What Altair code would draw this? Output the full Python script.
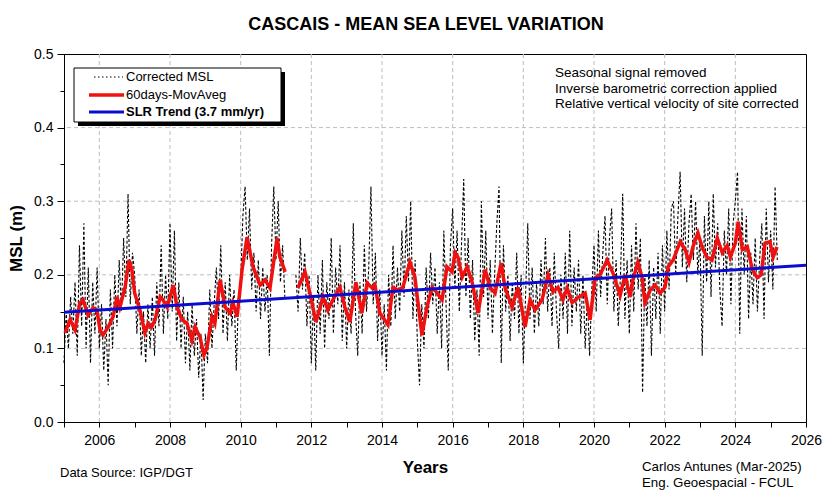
import altair as alt
import pandas as pd

FONT = "Liberation Sans"

# ---------------- data ----------------
msl_start = 2005.0
msl_step = 1.0 / 16.0
msl_values = [
    # 2005
    0.08, 0.15, 0.10, 0.17, 0.12, 0.19, 0.09, 0.24, 0.13, 0.27, 0.10, 0.21, 0.08, 0.19, 0.12, 0.21,
    # 2006
    0.10, 0.16, 0.07, 0.14, 0.05, 0.18, 0.10, 0.20, 0.13, 0.22, 0.15, 0.25, 0.17, 0.31, 0.16, 0.23,
    # 2007
    0.20, 0.12, 0.18, 0.09, 0.15, 0.08, 0.16, 0.10, 0.17, 0.09, 0.19, 0.13, 0.24, 0.12, 0.20, 0.14,
    # 2008
    0.27, 0.15, 0.26, 0.11, 0.19, 0.10, 0.17, 0.08, 0.15, 0.07, 0.16, 0.09, 0.14, 0.06, 0.12, 0.03,
    # 2009
    0.12, 0.08, 0.18, 0.10, 0.16, 0.21, 0.14, 0.24, 0.12, 0.19, 0.11, 0.20, 0.13, 0.18, 0.07, 0.17,
    # 2010
    0.19, 0.28, 0.32, 0.22, 0.29, 0.18, 0.23, 0.15, 0.22, 0.14, 0.21, 0.15, 0.20, 0.09, 0.24, 0.32,
    # 2011 (gap in record)
    0.22, 0.30, 0.19, 0.24, 0.17, None, None, None, None, 0.20, 0.15, 0.25, 0.18, 0.23, 0.13, 0.20,
    # 2012
    0.08, 0.17, 0.07, 0.20, 0.12, 0.22, 0.10, 0.19, 0.14, 0.25, 0.12, 0.21, 0.16, 0.24, 0.11, 0.19,
    # 2013
    0.10, 0.18, 0.12, 0.27, 0.15, 0.09, 0.19, 0.12, 0.24, 0.15, 0.21, 0.32, 0.16, 0.23, 0.11, 0.18,
    # 2014
    0.09, 0.16, 0.07, 0.20, 0.13, 0.24, 0.14, 0.21, 0.15, 0.26, 0.17, 0.28, 0.19, 0.30, 0.14, 0.22,
    # 2015
    0.11, 0.05, 0.16, 0.10, 0.21, 0.14, 0.23, 0.16, 0.21, 0.12, 0.19, 0.10, 0.26, 0.16, 0.07, 0.24,
    # 2016
    0.29, 0.18, 0.26, 0.15, 0.24, 0.33, 0.17, 0.25, 0.14, 0.22, 0.11, 0.18, 0.09, 0.30, 0.17, 0.26,
    # 2017
    0.14, 0.22, 0.12, 0.20, 0.27, 0.32, 0.08, 0.24, 0.15, 0.20, 0.11, 0.19, 0.14, 0.23, 0.12, 0.20,
    # 2018
    0.08, 0.17, 0.27, 0.14, 0.21, 0.12, 0.19, 0.13, 0.22, 0.16, 0.25, 0.15, 0.21, 0.13, 0.23, 0.15,
    # 2019
    0.10, 0.20, 0.14, 0.23, 0.12, 0.26, 0.13, 0.21, 0.15, 0.22, 0.12, 0.20, 0.10, 0.17, 0.09, 0.18,
    # 2020
    0.24, 0.15, 0.26, 0.17, 0.23, 0.28, 0.16, 0.25, 0.29, 0.15, 0.22, 0.13, 0.20, 0.31, 0.14, 0.22,
    # 2021
    0.12, 0.24, 0.15, 0.27, 0.18, 0.25, 0.04, 0.20, 0.13, 0.22, 0.09, 0.21, 0.14, 0.23, 0.12, 0.24,
    # 2022
    0.15, 0.26, 0.18, 0.29, 0.30, 0.20, 0.28, 0.34, 0.21, 0.29, 0.19, 0.27, 0.31, 0.22, 0.30, 0.20,
    # 2023
    0.25, 0.09, 0.28, 0.19, 0.30, 0.17, 0.31, 0.21, 0.27, 0.18, 0.13, 0.26, 0.20, 0.29, 0.16, 0.27,
    # 2024
    0.30, 0.34, 0.12, 0.29, 0.20, 0.28, 0.14, 0.23, 0.16, 0.25, 0.15, 0.22, 0.27, 0.14, 0.29, 0.19,
    # 2025
    0.26, 0.18, 0.32, 0.22,
]

mavg_years_1 = [
    2005.03, 2005.17, 2005.31, 2005.45, 2005.54, 2005.68, 2005.82, 2005.93,
    2006.02, 2006.10, 2006.25, 2006.39, 2006.50, 2006.58, 2006.73, 2006.84, 2006.92,
    2007.00, 2007.15, 2007.29, 2007.38, 2007.48, 2007.58, 2007.72, 2007.80, 2007.92,
    2008.09, 2008.20, 2008.34, 2008.48, 2008.62, 2008.71, 2008.85, 2008.96,
    2009.05, 2009.19, 2009.27, 2009.42, 2009.56, 2009.70, 2009.78, 2009.90,
    2010.04, 2010.18, 2010.35, 2010.55, 2010.69, 2010.83,
    2011.03, 2011.11, 2011.26,
]
mavg_values_1 = [
    0.121, 0.139, 0.125, 0.162, 0.166, 0.145, 0.155, 0.152,
    0.125, 0.118, 0.129, 0.143, 0.170, 0.156, 0.183, 0.220, 0.207,
    0.175, 0.152, 0.121, 0.134, 0.129, 0.139, 0.170, 0.166, 0.156,
    0.186, 0.156, 0.139, 0.134, 0.111, 0.129, 0.115, 0.091,
    0.102, 0.143, 0.134, 0.193, 0.156, 0.148, 0.162, 0.143,
    0.207, 0.251, 0.211, 0.186, 0.193, 0.182,
    0.250, 0.224, 0.204,
]
mavg_years_2 = [
    2011.62, 2011.82, 2011.96,
    2012.13, 2012.25, 2012.33, 2012.47, 2012.61, 2012.81, 2012.95,
    2013.09, 2013.26, 2013.43, 2013.58, 2013.72, 2013.80, 2013.94,
    2014.17, 2014.31, 2014.45, 2014.59, 2014.79, 2014.93,
    2015.13, 2015.27, 2015.42, 2015.50, 2015.70, 2015.84, 2015.98,
    2016.07, 2016.15, 2016.27, 2016.41, 2016.55, 2016.72, 2016.92,
    2017.06, 2017.20, 2017.37, 2017.48, 2017.68, 2017.85,
    2018.05, 2018.19, 2018.33, 2018.53, 2018.70, 2018.84, 2018.98,
    2019.12, 2019.24, 2019.38, 2019.52, 2019.75, 2019.89,
    2020.03, 2020.17, 2020.37, 2020.54, 2020.74, 2020.88,
    2021.02, 2021.10, 2021.24, 2021.36, 2021.44, 2021.59, 2021.73, 2021.87,
    2022.01, 2022.10, 2022.24, 2022.44, 2022.58, 2022.69, 2022.80, 2022.94,
    2023.07, 2023.20, 2023.34, 2023.49, 2023.63, 2023.77, 2023.86,
    2024.00, 2024.08, 2024.20, 2024.34, 2024.48, 2024.62, 2024.73, 2024.84, 2024.98,
    2025.07, 2025.18,
]
mavg_values_2 = [
    0.182, 0.204, 0.175,
    0.136, 0.156, 0.170, 0.152, 0.166, 0.183, 0.156,
    0.136, 0.190, 0.148, 0.189, 0.182, 0.186, 0.148,
    0.132, 0.183, 0.179, 0.183, 0.217, 0.197,
    0.118, 0.156, 0.183, 0.179, 0.166, 0.211, 0.204,
    0.230, 0.224, 0.197, 0.211, 0.190, 0.148, 0.207,
    0.183, 0.175, 0.216, 0.183, 0.156, 0.183,
    0.129, 0.166, 0.152, 0.166, 0.200, 0.177, 0.183,
    0.166, 0.182, 0.162, 0.168, 0.175, 0.139,
    0.196, 0.200, 0.220, 0.202, 0.172, 0.200,
    0.170, 0.193, 0.217, 0.197, 0.162, 0.179, 0.186, 0.175,
    0.183, 0.211, 0.220, 0.245, 0.234, 0.217, 0.238, 0.257,
    0.236, 0.224, 0.220, 0.250, 0.230, 0.240, 0.224,
    0.243, 0.272, 0.234, 0.238, 0.207, 0.196, 0.200, 0.243, 0.245,
    0.224, 0.238,
]

trend_years = [2005.0, 2026.0]
trend_values = [0.149, 0.213]

year_ticks = list(range(2005, 2027))
year_grid = [2006, 2008, 2010, 2012, 2014, 2016, 2018, 2020, 2022, 2024]
msl_ticks = [0.0, 0.05, 0.1, 0.15, 0.2, 0.25, 0.3, 0.35, 0.4, 0.45, 0.5]
msl_grid = [0.1, 0.2, 0.3, 0.4]

title_text = "CASCAIS - MEAN SEA LEVEL VARIATION"
legend_labels = ["Corrected MSL", "60days-MovAveg", "SLR Trend (3.7 mm/yr)"]
notes_text = "Seasonal signal removed\nInverse barometric correction applied\nRelative vertical velocity of site corrected"
source_text = "Data Source: IGP/DGT"
author_text = "Carlos Antunes (Mar-2025)\nEng. Geoespacial - FCUL"

# ---------------- tables ----------------
msl_rows = []
seg = 0
for i, v in enumerate(msl_values):
    if v is None:
        seg += 1
        continue
    msl_rows.append({"year": msl_start + i * msl_step, "msl": v, "seg": seg})
msl_df = pd.DataFrame(msl_rows)

mavg_df = pd.concat([
    pd.DataFrame({"year": mavg_years_1, "msl": mavg_values_1, "seg": 0}),
    pd.DataFrame({"year": mavg_years_2, "msl": mavg_values_2, "seg": 1}),
])
trend_df = pd.DataFrame({"year": trend_years, "msl": trend_values})
xgrid_df = pd.DataFrame({"year": year_grid})
ygrid_df = pd.DataFrame({"msl": msl_grid})

W, H = 742, 368

x_scale = alt.Scale(domain=[2005, 2026], nice=False, zero=False)
y_scale = alt.Scale(domain=[0, 0.5], nice=False)

x_axis = alt.Axis(
    values=year_ticks,
    labelExpr="round(datum.value) % 2 == 0 ? format(datum.value, 'd') : ''",
    labelOverlap=False,
    labelFlush=False,
    grid=False,
    tickSize=5,
    labelPadding=6,
    title="Years",
    titlePadding=12,
    titleX=361,
)
y_axis = alt.Axis(
    values=msl_ticks,
    labelExpr="round(datum.value * 20) % 2 == 0 ? format(datum.value, '.1f') : ''",
    labelOverlap=False,
    labelFlush=False,
    grid=False,
    tickSize={"condition": {"test": "round(datum.value * 20) % 2 == 0", "value": 7}, "value": 4},
    labelPadding=4,
    title="MSL (m)",
    titlePadding=8,
)

X = alt.X("year:Q", scale=x_scale, axis=x_axis)
Y = alt.Y("msl:Q", scale=y_scale, axis=y_axis)

GRID_COLOR = "#bdbdbd"

x_grid = alt.Chart(xgrid_df).mark_rule(color=GRID_COLOR, strokeWidth=1, strokeDash=[4, 3]).encode(x=X)
y_grid = alt.Chart(ygrid_df).mark_rule(color=GRID_COLOR, strokeWidth=1, strokeDash=[4, 3]).encode(y=Y)

msl_line = alt.Chart(msl_df).mark_line(
    color="black", strokeWidth=1.1, strokeDash=[3, 2]
).encode(x=X, y=Y, detail="seg:N")

mavg_line = alt.Chart(mavg_df).mark_line(
    color="#f01010", strokeWidth=3.5
).encode(x=X, y=Y, detail="seg:N")

trend_line = alt.Chart(trend_df).mark_line(
    color="#0c0cd0", strokeWidth=3
).encode(x=X, y=Y)

one = pd.DataFrame({"k": [0]})

# legend box with shadow
leg_shadow = alt.Chart(one).mark_rect(color="black").encode(
    x=alt.value(14), x2=alt.value(221), y=alt.value(18), y2=alt.value(72)
)
leg_box = alt.Chart(one).mark_rect(fill="white", stroke="black", strokeWidth=1).encode(
    x=alt.value(10), x2=alt.value(217), y=alt.value(14), y2=alt.value(68)
)
leg_l1 = alt.Chart(one).mark_rule(color="black", strokeWidth=1, strokeDash=[1.5, 2.5]).encode(
    x=alt.value(30), x2=alt.value(59), y=alt.value(23)
)
leg_l2 = alt.Chart(one).mark_rule(color="#f01010", strokeWidth=3.5).encode(
    x=alt.value(25), x2=alt.value(60), y=alt.value(41)
)
leg_l3 = alt.Chart(one).mark_rule(color="#0c0cd0", strokeWidth=3).encode(
    x=alt.value(25), x2=alt.value(60), y=alt.value(58)
)
leg_t1 = alt.Chart(pd.DataFrame({"t": [legend_labels[0]]})).mark_text(
    align="left", baseline="middle", font=FONT, fontSize=13, color="black"
).encode(x=alt.value(62), y=alt.value(23), text="t:N")
leg_t2 = alt.Chart(pd.DataFrame({"t": [legend_labels[1]]})).mark_text(
    align="left", baseline="middle", font=FONT, fontSize=13, color="black"
).encode(x=alt.value(62), y=alt.value(41), text="t:N")
leg_t3 = alt.Chart(pd.DataFrame({"t": [legend_labels[2]]})).mark_text(
    align="left", baseline="middle", font=FONT, fontSize=13, fontWeight="bold", color="black"
).encode(x=alt.value(62), y=alt.value(58), text="t:N")

notes = alt.Chart(pd.DataFrame({"t": [notes_text]})).mark_text(
    align="left", baseline="top", font=FONT, fontSize=13.5, lineBreak="\n", lineHeight=15.5, color="black"
).encode(x=alt.value(491), y=alt.value(12), text="t:N")

source = alt.Chart(pd.DataFrame({"t": [source_text]})).mark_text(
    align="left", baseline="middle", font=FONT, fontSize=13, color="black"
).encode(x=alt.value(-4), y=alt.value(419), text="t:N")

author = alt.Chart(pd.DataFrame({"t": [author_text]})).mark_text(
    align="left", baseline="top", font=FONT, fontSize=13.3, lineBreak="\n", lineHeight=16, color="black"
).encode(x=alt.value(578), y=alt.value(406), text="t:N")

chart = alt.layer(
    x_grid, y_grid,
    msl_line, mavg_line, trend_line,
    leg_shadow, leg_box, leg_l1, leg_l2, leg_l3, leg_t1, leg_t2, leg_t3,
    notes, source, author,
).properties(
    width=W,
    height=H,
    title=alt.TitleParams(
        text=title_text, font=FONT, fontSize=18, fontWeight="bold",
        anchor="middle", offset=13, dx=-9, color="black",
    ),
    autosize=alt.AutoSizeParams(type="none"),
    padding={"left": 56, "top": 46, "right": 19, "bottom": 72},
    background="white",
).configure_view(
    stroke="black", strokeWidth=1
).configure_axis(
    domainColor="black",
    tickColor="black",
    labelFont=FONT,
    labelFontSize=14,
    labelColor="black",
    titleFont=FONT,
    titleFontSize=17,
    titleFontWeight="bold",
    titleColor="black",
)

chart.save("out.html", embed_options={"renderer": "svg", "actions": False})
